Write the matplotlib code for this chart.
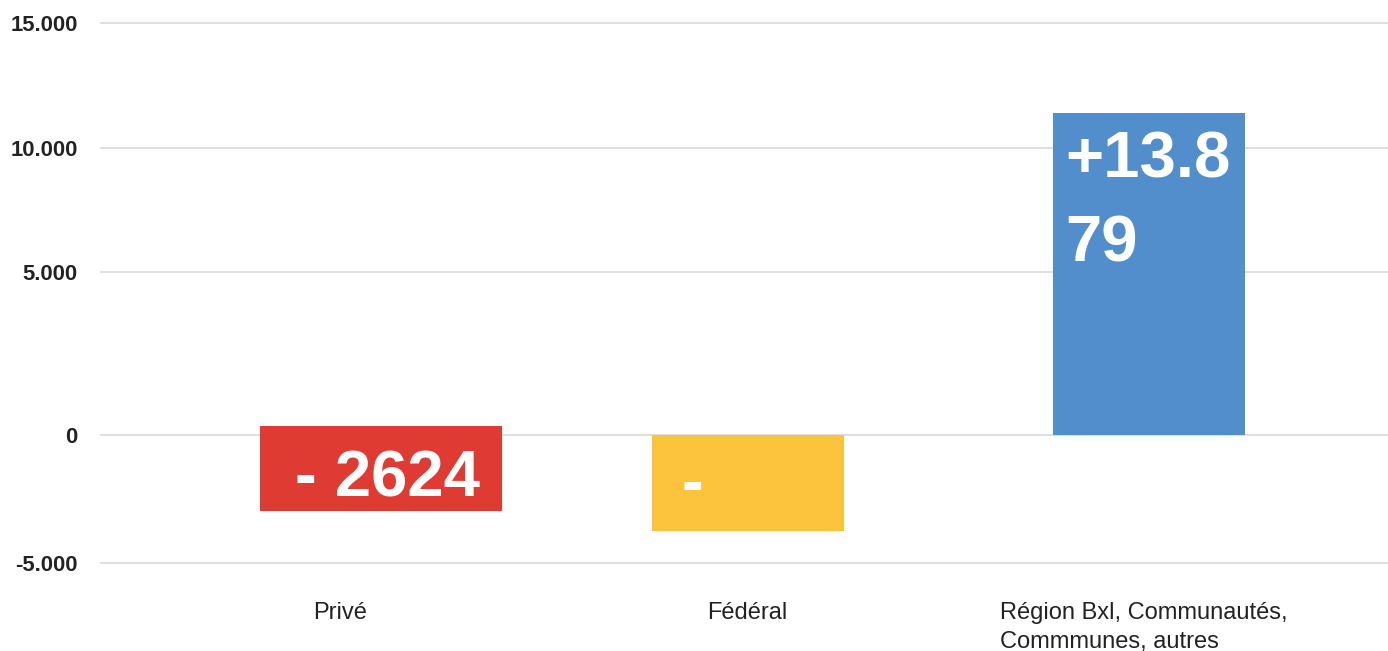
import matplotlib.pyplot as plt
import numpy as np

# data
categories = ['Privé', 'Fédéral', 'Région Bxl, Communautés,\nCommmunes, autres']
bar_bottom = [-2970, -3750, 0]
bar_top = [280, 0, 11400]
bar_text = ['- 2624', '-', '+13.8\n79']
colors = ['#E03B33', '#FCC33C', '#528ECB']
yticks = [-5000, 0, 5000, 10000, 15000]
ytick_labels = ['-5.000', '0', '5.000', '10.000', '15.000']

# the value axis of the original is not linear: pixel row of each gridline
grid_rows = [691, 563, 435, 272, 148, 23, -102]
grid_vals = [-10000, -5000, 0, 5000, 10000, 15000, 20000]

def fwd(v):
    return -np.interp(v, grid_vals, grid_rows)

def inv(r):
    return np.interp(-np.asarray(r), grid_rows[::-1], grid_vals[::-1])

# layout (pixel columns)
bar_x = [381, 748, 1149]
bar_w = [242, 192, 192]
label_x = [340, 747, 1144]
text_off = [(35, -71), (30, -68), (12, -65)]
line_step = 83

plt.rcParams['font.family'] = ['Liberation Sans', 'DejaVu Sans']
fig = plt.figure(figsize=(13.88, 6.51), dpi=100)
ax = fig.add_axes([100/1388, 71/651, 1 - 100/1388, 575/651])
ax.set_yscale('function', functions=(fwd, inv))
ax.set_xlim(100, 1388)
ax.set_ylim(inv(-580), inv(-5))

heights = np.array(bar_top) - np.array(bar_bottom)
ax.bar(bar_x, heights, width=bar_w, bottom=bar_bottom, color=colors, zorder=2)

for i in range(3):
    for k, line in enumerate(bar_text[i].split('\n')):
        dx, dy = text_off[i]
        ax.annotate(line, xy=(bar_x[i] - bar_w[i]/2, bar_top[i]),
                    xytext=(dx, dy - k*line_step), textcoords='offset pixels',
                    ha='left', va='baseline', color='white', fontsize=47,
                    fontweight='bold', zorder=3)

ax.set_yticks(yticks)
ax.set_yticklabels(ytick_labels, fontsize=15.8, fontweight='bold', color='#222222')
ax.set_xticks(label_x)
ax.set_xticklabels(categories, fontsize=17, color='#222222', linespacing=1.4)
ax.get_xticklabels()[2].set_multialignment('left')
ax.tick_params(axis='y', length=0, pad=16)
ax.tick_params(axis='x', length=0, pad=16)
ax.yaxis.set_minor_locator(plt.NullLocator())
ax.grid(axis='y', color='#d9d9d9', linewidth=1.2, zorder=0)
ax.set_axisbelow(True)
for s in ax.spines.values():
    s.set_visible(False)

fig.savefig('out.png', dpi=100)
